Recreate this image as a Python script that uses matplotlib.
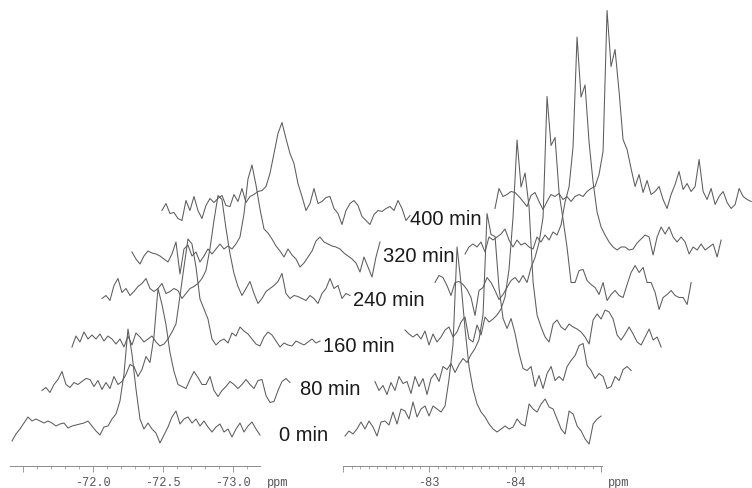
import numpy as np
import matplotlib
matplotlib.use("Agg")
from matplotlib import pyplot as plt
from matplotlib.ticker import MultipleLocator
from matplotlib.transforms import ScaledTranslation

# spectra (intensity, arbitrary units) on a uniform ppm grid, one list per time point
times = ["0 min", "80 min", "160 min", "240 min", "320 min", "400 min"]

ppm_left = (-71.421, -73.193)
left_0 = [-12, -5, 0, 6, 12, 8, 10, 8, 6, 8, 6, 3, 5, 6, 1, 3, 4, 5, 6, 8, 3, -2, -6, 2, 3, 10, 15, 28, 55, 100,
          75, 40, 10, 0, 6, 0, -4, -14, -6, 2, 12, 18, 5, 10, 12, 6, 10, 3, 8, 2, -3, 2, 5, -3, 0, -8, 0, 6, -3, 3,
          7, 0, -6]
left_80 = [-6, -3, -8, 0, 5, 13, 0, -3, 2, 0, 3, 6, 5, -2, 4, -5, 2, -4, 8, 0, 3, 10, 20, 18, 8, 15, 28, 22, 48, 96,
           80, 60, 32, 13, 0, -2, -4, 5, 13, 7, 0, 0, 8, -6, -12, -6, -2, 3, 0, -4, 0, 5, 0, -4, 4, 5, -11, -18, -17,
           -6, 3, 6, 2]
left_160 = [-7, 4, -2, 8, 1, 5, 1, 6, -1, 4, 1, -4, 1, -7, 4, -5, 7, 3, -2, 1, 4, -2, -6, -4, 1, 8, 16, 44, 73, 101,
            96, 73, 41, 31, 21, 1, -5, -1, 1, -3, 7, 4, 13, 9, 6, 1, -4, -6, 3, 8, 5, -1, -7, -3, -5, -6, -1, -3, -5,
            -2, 1, -3, -1]
left_240 = [-3, 0, -5, 10, 17, 3, 7, 0, 4, 9, 12, 17, 7, 4, 7, 12, 2, 4, 7, 5, -3, 2, 7, 9, 12, 17, 25, 47, 75, 100,
            96, 67, 42, 22, 9, 0, 7, 14, 2, -8, -3, 4, 7, 10, 14, 22, 2, -3, 0, -1, -3, -5, 0, -3, -8, 2, 7, 17, 7,
            10, -3, 2, 0]
left_320 = [-1, -8, -13, -5, 0, -2, -3, -5, -8, -11, -3, 9, -23, 2, 6, -5, -1, -11, -5, 2, -3, 2, 7, 2, 5, 2, 7, 14,
            37, 72, 86, 66, 42, 22, 18, 12, 5, 0, -6, 2, -4, -8, -16, -12, -6, 0, 10, 14, 9, 7, 5, 4, 2, -2, -5, -8,
            -12, -21, -6, -16, -26, -6, 9]
left_400 = [-4, 3, -7, -6, -12, -14, 6, -4, 10, -4, -12, 1, 8, 4, 8, 11, 1, 0, 12, 5, 18, 4, 10, 12, 15, 16, 20, 33,
            53, 73, 84, 68, 53, 43, 23, 10, -4, 3, 18, 3, 5, 9, 10, -2, -7, -18, -4, 3, 6, 1, -10, -14, -18, -8, -4,
            -5, -2, 0, -4, 6, -2, -14, -9]

ppm_right = (-82.023, -85.0)
right_0 = [-7, -2, -5, 0, 7, 0, 8, 2, -7, 7, 8, 4, 17, 5, 20, 18, 10, 27, 12, 20, 23, 13, 23, 20, 17, 23, 50, 85,
           182, 145, 100, 62, 40, 25, 17, 12, 5, 0, -3, 0, 3, 0, 2, 10, 5, 3, 25, 20, 17, 25, 30, 22, 20, 10, 0, -5,
           18, 15, 3, -2, -10, -15, 5, 10, 13]
right_80 = [3, -6, -1, -10, 2, -6, 8, 1, 3, -9, 8, -2, 6, -10, 6, 11, 3, 18, 15, 21, 12, 20, 26, 22, 30, 36, 45, 70,
            171, 150, 148, 96, 66, 56, 66, 51, 31, 16, 14, 18, -2, 9, -4, 11, 18, 4, 8, 4, 18, 24, 29, 39, 41, 19,
            14, 6, 11, 8, -4, -2, 8, 4, 15, 18, 14]
right_160 = [10, 6, 3, 6, 1, 9, -5, 6, -2, 3, 10, 13, 3, 8, 18, 23, 1, -2, 15, 5, 23, 18, 21, 25, 31, 43, 71, 123,
             200, 153, 167, 133, 58, 25, 13, 3, -2, 16, 20, 13, 10, 16, 13, 11, 8, 3, -4, 20, 26, 21, 30, 28, 21, 5,
             0, 6, 13, 6, -2, -5, 3, 11, 0, 3, -7]
right_240 = [13, 20, 18, 10, 0, 13, 14, 11, 6, -2, -20, 5, 8, 18, 13, 5, -4, 1, 8, 15, 18, 13, 20, 13, 28, 38, 53,
             78, 199, 150, 158, 103, 76, 48, 13, 13, 25, 26, 15, 11, 8, 1, 13, -5, 1, 5, 0, -2, 11, 23, 30, 23, 28,
             13, 13, 3, -14, -2, 1, 5, 0, -2, -2, -9, 13]
right_320 = [-3, 4, 7, 4, 9, -1, 14, 11, 14, 17, 22, 11, 4, 11, 6, 8, 4, 2, 14, 9, 16, 11, 19, 16, 26, 49, 64, 104,
             214, 154, 166, 109, 69, 39, 24, 16, 9, 4, 1, 4, 4, 1, 2, 8, 12, 16, 14, -4, 14, 24, 17, 24, 14, 9, 14,
             9, -3, 4, 1, 7, 1, 4, 7, -6, 11]
right_400 = [-2, 18, 10, 12, 15, 14, 10, 5, 0, 11, 14, 5, -3, 5, 12, 10, 13, 7, 10, 5, 10, 12, 10, 15, 18, 20, 32,
             55, 196, 140, 157, 115, 67, 57, 38, 20, 32, 14, 26, 12, 15, 20, 7, -2, 12, 22, 35, 17, 23, 15, 20, 47,
             15, 7, 18, 2, 10, 15, 4, -2, 2, 18, 10, 7, 5]

left_spectra = [left_0, left_80, left_160, left_240, left_320, left_400]
right_spectra = [right_0, right_80, right_160, right_240, right_320, right_400]

# stacking step between successive spectra (inches at 100 dpi)
step_x, step_y = 0.30, 0.445
baseline = 37

W, H = 752, 489
fig = plt.figure(figsize=(W / 100, H / 100), dpi=100)
fig.patch.set_facecolor("white")

line_kw = dict(color="#5c5c5c", lw=0.75, clip_on=False)
tick_color = "#8a8a8a"
mono = "Liberation Mono"


def make_axes(x0, x1, lims):
    ax = fig.add_axes([x0 / W, 22 / H, (x1 - x0) / W, 467 / H])
    ax.set_xlim(*lims)
    ax.set_ylim(0, 467)
    ax.patch.set_alpha(0)
    for s in ("left", "right", "top"):
        ax.spines[s].set_visible(False)
    ax.spines["bottom"].set_color(tick_color)
    ax.spines["bottom"].set_linewidth(0.7)
    ax.set_yticks([])
    ax.xaxis.set_minor_locator(MultipleLocator(0.1))
    ax.tick_params(axis="x", which="major", direction="out", length=4.5, width=0.6,
                   color=tick_color, labelcolor="#555555", labelsize=8.6, pad=3)
    ax.tick_params(axis="x", which="minor", direction="out", length=2.2, width=0.5,
                   color=tick_color)
    return ax


def draw_stack(ax, rng, spectra):
    for k, vals in enumerate(spectra):
        vals = np.asarray(vals, dtype=float)
        ppm = np.linspace(rng[0], rng[1], len(vals))
        shift = ScaledTranslation(k * step_x, k * step_y, fig.dpi_scale_trans)
        ax.plot(ppm, baseline + vals, transform=ax.transData + shift,
                zorder=10 - k, **line_kw)


ax1 = make_axes(10, 260, (-71.407, -73.193))
ax1.set_xticks([-71.5, -72.0, -72.5, -73.0])
ax1.set_xticklabels(["", "-72.0", "-72.5", "-73.0"], family=mono)
draw_stack(ax1, ppm_left, left_spectra)

ax2 = make_axes(343, 602, (-82.0, -85.01))
ax2.set_xticks([-82, -83, -84, -85])
ax2.set_xticklabels(["", "-83", "-84", ""], family=mono)
draw_stack(ax2, ppm_right, right_spectra)

for xp in (267, 608):
    fig.text(xp / W, 1 - 483 / H, "ppm", ha="left", va="center",
             family=mono, fontsize=8.6, color="#555555")

# time labels between the two regions
label_pos = [(279, 436), (300, 390), (323, 347), (353, 301), (383, 257), (410, 220)]
for t, (px, py) in zip(times, label_pos):
    fig.text(px / W, 1 - py / H, t, ha="left", va="center",
             family="Liberation Sans", fontsize=14.5, color="#1a1a1a", zorder=20)

fig.savefig("out.png", dpi=100, facecolor="white")
